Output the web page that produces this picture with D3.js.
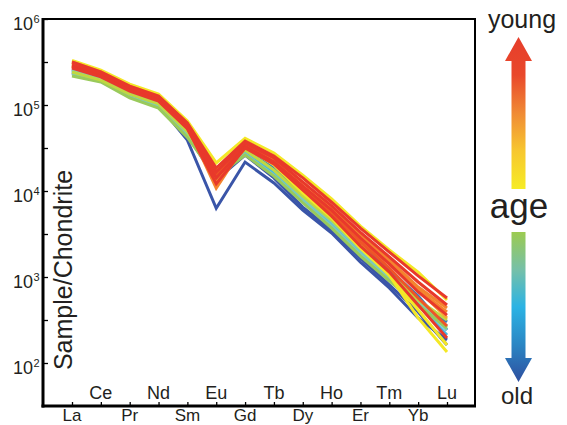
<!DOCTYPE html>
<html>
<head>
<meta charset="utf-8">
<script src="https://cdn.jsdelivr.net/npm/d3@7"></script>
<style>
body { margin: 0; background: #fff; }
svg { display: block; font-family: "Liberation Sans", Arial, Helvetica, sans-serif; }
</style>
</head>
<body>
<div id="chart"></div>
<script>
var WIDTH = 567;
var HEIGHT = 425;
var LEFT = 43;
var RIGHT = 475;
var TOP = 19;
var BOTTOM = 406;
var TEXT_COLOR = "#231f20";

// REE, chondrite normalised
var elements = ["La", "Ce", "Pr", "Nd", "Sm", "Eu", "Gd", "Tb", "Dy", "Ho", "Er", "Tm", "Yb", "Lu"];
var yTickExps = [2, 3, 4, 5, 6];
var yMinorExps = [2.5, 3.5, 4.5, 5.5];

// oldest (blue) drawn first, youngest (red) last
var sampleColors = [
    "#3a55a8", "#3a55a8", "#3b77bd", "#3b77bd", "#42b6e2", "#7ccbbd", "#7ccbbd",
    "#99ca5b", "#c0d840", "#f4e826", "#f4e826", "#f4e826", "#f8a535", "#f4842f",
    "#f4842f", "#ee5527", "#e8392b", "#e8392b", "#e8392b", "#e8392b"
];
var sampleValues = [
    [2.36e5, 1.95e5, 1.31e5, 1.0e5, 3.9e4, 6.3e3, 2.17e4, 1.24e4, 6.0e3, 3.25e3, 1.49e3, 745, 334, 185],
    [2.42e5, 2.01e5, 1.38e5, 1.03e5, 4.5e4, 1.34e4, 2.62e4, 1.42e4, 6.5e3, 3.5e3, 1.66e3, 810, 392, 162],
    [2.55e5, 2.06e5, 1.42e5, 1.08e5, 4.9e4, 1.42e4, 2.84e4, 1.66e4, 8.3e3, 4.4e3, 2.06e3, 1.05e3, 540, 300],
    [2.62e5, 2.12e5, 1.45e5, 1.11e5, 5.1e4, 1.58e4, 3.0e4, 1.85e4, 9.2e3, 4.9e3, 2.36e3, 1.21e3, 600, 242],
    [2.48e5, 2.01e5, 1.34e5, 1.05e5, 4.7e4, 1.53e4, 2.84e4, 1.66e4, 7.9e3, 4.1e3, 1.95e3, 970, 472, 212],
    [2.29e5, 1.90e5, 1.24e5, 9.7e4, 4.5e4, 1.49e4, 2.69e4, 1.53e4, 7.7e3, 3.9e3, 1.85e3, 970, 500, 242],
    [2.55e5, 2.06e5, 1.38e5, 1.05e5, 4.9e4, 1.58e4, 3.0e4, 1.75e4, 8.3e3, 4.4e3, 2.06e3, 1.03e3, 512, 269],
    [2.17e5, 1.85e5, 1.21e5, 9.2e4, 4.2e4, 1.45e4, 2.62e4, 1.49e4, 7.3e3, 3.7e3, 1.75e3, 900, 472, 255],
    [2.42e5, 1.95e5, 1.34e5, 1.03e5, 4.9e4, 1.49e4, 3.0e4, 1.75e4, 8.7e3, 4.6e3, 2.17e3, 1.11e3, 540, 316],
    [3.3e5, 2.55e5, 1.75e5, 1.34e5, 6.5e4, 2.12e4, 4.1e4, 2.77e4, 1.53e4, 8.1e3, 3.9e3, 2.06e3, 1.14e3, 540],
    [3.08e5, 2.36e5, 1.58e5, 1.21e5, 5.7e4, 1.75e4, 3.6e4, 2.29e4, 1.08e4, 5.26e3, 2.36e3, 1.05e3, 334, 134],
    [2.84e5, 2.23e5, 1.49e5, 1.14e5, 5.4e4, 1.66e4, 3.3e4, 2.0e4, 9.5e3, 4.9e3, 2.17e3, 1.05e3, 413, 162],
    [3.16e5, 2.42e5, 1.66e5, 1.27e5, 6.0e4, 1.66e4, 3.7e4, 2.42e4, 1.27e4, 6.5e3, 3.0e3, 1.49e3, 705, 334],
    [3.0e5, 2.29e5, 1.58e5, 1.21e5, 5.7e4, 1.08e4, 3.5e4, 2.23e4, 1.14e4, 6.0e3, 3.0e3, 1.58e3, 765, 436],
    [2.84e5, 2.23e5, 1.53e5, 1.17e5, 5.4e4, 1.27e4, 3.3e4, 2.06e4, 1.03e4, 5.4e3, 2.69e3, 1.42e3, 705, 392],
    [2.84e5, 2.23e5, 1.53e5, 1.17e5, 5.5e4, 1.49e4, 3.4e4, 2.17e4, 1.08e4, 5.7e3, 2.55e3, 1.27e3, 570, 269],
    [3.16e5, 2.42e5, 1.66e5, 1.27e5, 6.2e4, 1.85e4, 3.8e4, 2.55e4, 1.42e4, 7.4e3, 3.7e3, 1.95e3, 1.03e3, 570],
    [2.92e5, 2.29e5, 1.58e5, 1.21e5, 5.7e4, 1.66e4, 3.6e4, 2.42e4, 1.27e4, 6.7e3, 3.3e3, 1.71e3, 875, 472],
    [2.77e5, 2.17e5, 1.49e5, 1.14e5, 5.4e4, 1.42e4, 3.3e4, 2.17e4, 1.14e4, 6.0e3, 2.84e3, 1.42e3, 670, 361],
    [2.69e5, 2.12e5, 1.45e5, 1.11e5, 5.3e4, 1.21e4, 3.16e4, 2.06e4, 1.03e4, 5.1e3, 2.29e3, 1.14e3, 472, 195]
];

var youngColors = ["#e63e2b", "#e9482b", "#f08a35", "#f7c72f", "#f6ec25"];
var oldColors = ["#9ccb50", "#76c0a8", "#2bb3e4", "#2a86c4", "#2f4f9f"];

var x = d3.scalePoint().domain(elements).range([72, 447]);
var y = d3.scaleLog().domain([Math.pow(10, 1.5), 1e6]).range([BOTTOM, TOP]);

function drawLines(svg) {
    var line = d3.line()
        .x(function (d, i) { return x(elements[i]); })
        .y(function (d) { return y(d); });
    for (var i = 0; i < sampleValues.length; i++) {
        svg.append("path")
            .attr("d", line(sampleValues[i]))
            .attr("fill", "none")
            .attr("stroke", sampleColors[i])
            .attr("stroke-width", 3)
            .attr("stroke-linejoin", "miter");
    }
}

function drawAxes(svg) {
    var yAxis = svg.append("g")
        .attr("transform", "translate(" + LEFT + ",0)")
        .call(d3.axisLeft(y)
            .tickValues(yTickExps.concat(yMinorExps).map(function (e) { return Math.pow(10, e); }))
            .tickSize(-5).tickFormat(""));
    yAxis.select(".domain").remove();
    yAxis.selectAll(".tick line").attr("stroke", "#000").attr("stroke-width", 1.3);

    var xAxis = svg.append("g")
        .attr("transform", "translate(0," + BOTTOM + ")")
        .call(d3.axisBottom(x).tickSize(-4).tickFormat(""));
    xAxis.select(".domain").remove();
    xAxis.selectAll(".tick line").attr("stroke", "#000").attr("stroke-width", 1.3);

    // frame
    svg.append("rect")
        .attr("x", LEFT).attr("y", TOP)
        .attr("width", RIGHT - LEFT).attr("height", BOTTOM - TOP)
        .attr("fill", "none").attr("stroke", "#000").attr("stroke-width", 2);
    svg.append("line").attr("x1", LEFT).attr("x2", LEFT).attr("y1", TOP - 1).attr("y2", BOTTOM + 1.5)
        .attr("stroke", "#000").attr("stroke-width", 3);
    svg.append("line").attr("x1", LEFT - 1.5).attr("x2", RIGHT + 1).attr("y1", BOTTOM).attr("y2", BOTTOM)
        .attr("stroke", "#000").attr("stroke-width", 3);

    // y labels 10^n
    yTickExps.forEach(function (e) {
        svg.append("text")
            .attr("x", 33).attr("y", y(Math.pow(10, e)) + 11)
            .attr("text-anchor", "end")
            .attr("font-size", 18).attr("fill", TEXT_COLOR)
            .text("10");
        svg.append("text")
            .attr("x", 33.5).attr("y", y(Math.pow(10, e)) + 4)
            .attr("font-size", 11).attr("fill", TEXT_COLOR)
            .text(e);
    });

    // x labels, alternating inside / below
    elements.forEach(function (el, i) {
        var below = i % 2 === 0;
        svg.append("text")
            .attr("x", x(el))
            .attr("y", below ? BOTTOM + 15 : BOTTOM - 7)
            .attr("text-anchor", "middle")
            .attr("font-size", below ? 17 : 18).attr("fill", TEXT_COLOR)
            .text(el);
    });

    svg.append("text")
        .attr("transform", "translate(72,270) rotate(-90)")
        .attr("text-anchor", "middle")
        .attr("font-size", 25).attr("fill", TEXT_COLOR)
        .text("Sample/Chondrite");
}

function drawAgeArrows(svg) {
    var defs = svg.append("defs");
    var gy = defs.append("linearGradient").attr("id", "young")
        .attr("x1", 0).attr("y1", 0).attr("x2", 0).attr("y2", 1);
    youngColors.forEach(function (c, i) {
        gy.append("stop").attr("offset", i / (youngColors.length - 1)).attr("stop-color", c);
    });
    var go = defs.append("linearGradient").attr("id", "old")
        .attr("x1", 0).attr("y1", 0).attr("x2", 0).attr("y2", 1);
    oldColors.forEach(function (c, i) {
        go.append("stop").attr("offset", i / (oldColors.length - 1)).attr("stop-color", c);
    });

    var cx = 518.5;
    // up arrow
    svg.append("path")
        .attr("d", "M" + cx + ",37 L" + (cx + 13.5) + ",61 L" + (cx + 7) + ",61 L" + (cx + 7) + ",189 L" +
            (cx - 7) + ",189 L" + (cx - 7) + ",61 L" + (cx - 13.5) + ",61 Z")
        .attr("fill", "url(#young)");
    // down arrow
    svg.append("path")
        .attr("d", "M" + (cx - 7) + ",232 L" + (cx + 7) + ",232 L" + (cx + 7) + ",358 L" + (cx + 13.5) + ",358 L" +
            cx + ",382 L" + (cx - 13.5) + ",358 L" + (cx - 7) + ",358 Z")
        .attr("fill", "url(#old)");

    svg.append("text").attr("x", 522).attr("y", 28).attr("text-anchor", "middle")
        .attr("font-size", 25).attr("fill", TEXT_COLOR).text("young");
    svg.append("text").attr("x", 519).attr("y", 218).attr("text-anchor", "middle")
        .attr("font-size", 35).attr("fill", TEXT_COLOR).text("age");
    svg.append("text").attr("x", 517).attr("y", 404).attr("text-anchor", "middle")
        .attr("font-size", 24).attr("fill", TEXT_COLOR).text("old");
}

function drawChart() {
    var svg = d3.select("#chart").append("svg")
        .attr("width", WIDTH)
        .attr("height", HEIGHT);
    drawLines(svg);
    drawAxes(svg);
    drawAgeArrows(svg);
}
drawChart();
</script>
</body>
</html>
